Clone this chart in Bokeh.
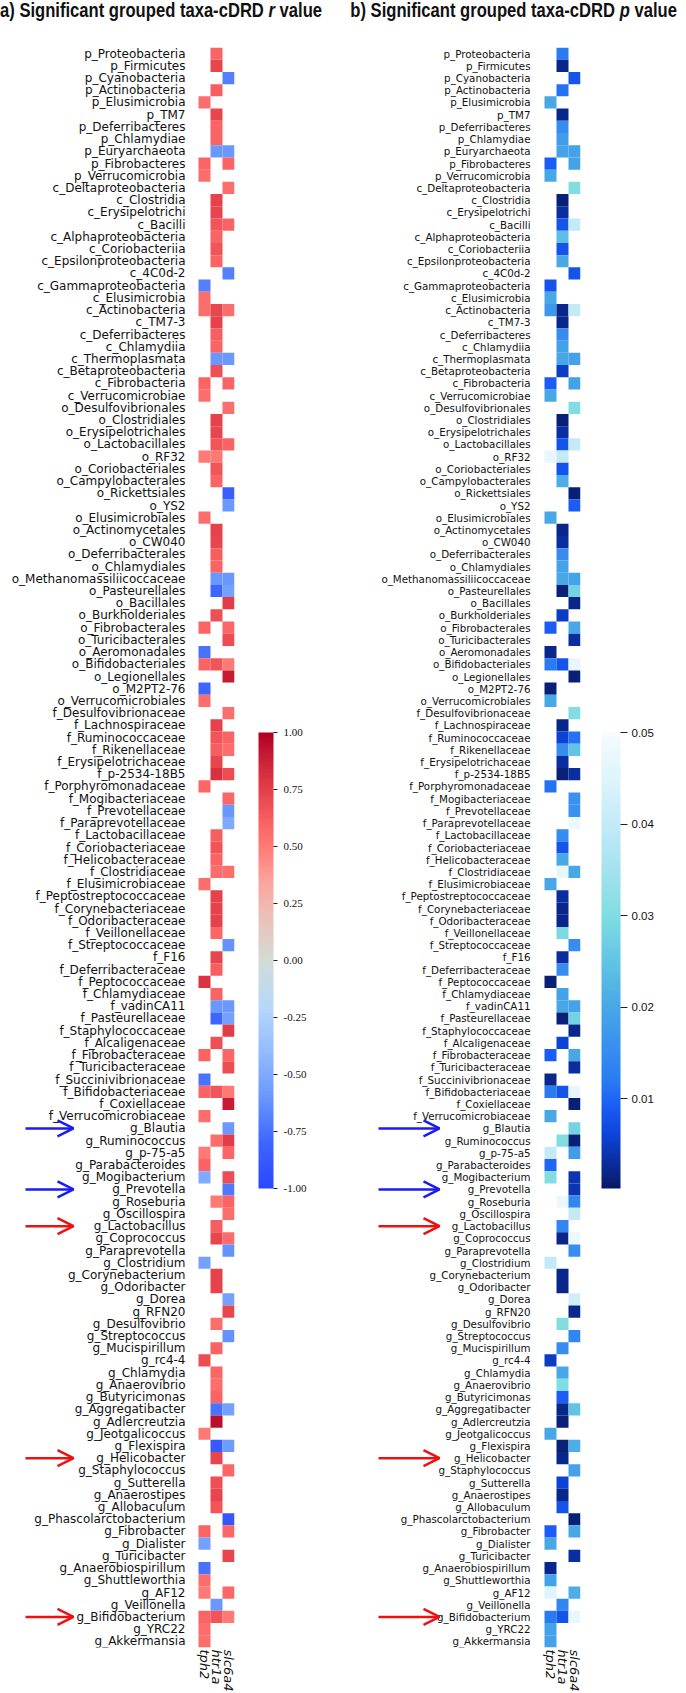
import numpy as np
from bokeh.plotting import figure
from bokeh.models import (ColumnDataSource, LinearColorMapper, ColorBar, FixedTicker,
                          PrintfTickFormatter, Arrow, OpenHead, Range1d, Div)
from bokeh.core.properties import value
from bokeh.layouts import row, column
from bokeh.embed import file_html
from bokeh.resources import INLINE

# ---------------- data ----------------
taxa = [
    "p_Proteobacteria", "p_Firmicutes", "p_Cyanobacteria", "p_Actinobacteria", "p_Elusimicrobia",
    "p_TM7", "p_Deferribacteres", "p_Chlamydiae", "p_Euryarchaeota", "p_Fibrobacteres",
    "p_Verrucomicrobia", "c_Deltaproteobacteria", "c_Clostridia", "c_Erysipelotrichi", "c_Bacilli",
    "c_Alphaproteobacteria", "c_Coriobacteriia", "c_Epsilonproteobacteria", "c_4C0d-2",
    "c_Gammaproteobacteria", "c_Elusimicrobia", "c_Actinobacteria", "c_TM7-3", "c_Deferribacteres",
    "c_Chlamydiia", "c_Thermoplasmata", "c_Betaproteobacteria", "c_Fibrobacteria",
    "c_Verrucomicrobiae", "o_Desulfovibrionales", "o_Clostridiales", "o_Erysipelotrichales",
    "o_Lactobacillales", "o_RF32", "o_Coriobacteriales", "o_Campylobacterales", "o_Rickettsiales",
    "o_YS2", "o_Elusimicrobiales", "o_Actinomycetales", "o_CW040", "o_Deferribacterales",
    "o_Chlamydiales", "o_Methanomassiliicoccaceae", "o_Pasteurellales", "o_Bacillales",
    "o_Burkholderiales", "o_Fibrobacterales", "o_Turicibacterales", "o_Aeromonadales",
    "o_Bifidobacteriales", "o_Legionellales", "o_M2PT2-76", "o_Verrucomicrobiales",
    "f_Desulfovibrionaceae", "f_Lachnospiraceae", "f_Ruminococcaceae", "f_Rikenellaceae",
    "f_Erysipelotrichaceae", "f_p-2534-18B5", "f_Porphyromonadaceae", "f_Mogibacteriaceae",
    "f_Prevotellaceae", "f_Paraprevotellaceae", "f_Lactobacillaceae", "f_Coriobacteriaceae",
    "f_Helicobacteraceae", "f_Clostridiaceae", "f_Elusimicrobiaceae", "f_Peptostreptococcaceae",
    "f_Corynebacteriaceae", "f_Odoribacteraceae", "f_Veillonellaceae", "f_Streptococcaceae",
    "f_F16", "f_Deferribacteraceae", "f_Peptococcaceae", "f_Chlamydiaceae", "f_vadinCA11",
    "f_Pasteurellaceae", "f_Staphylococcaceae", "f_Alcaligenaceae", "f_Fibrobacteraceae",
    "f_Turicibacteraceae", "f_Succinivibrionaceae", "f_Bifidobacteriaceae", "f_Coxiellaceae",
    "f_Verrucomicrobiaceae", "g_Blautia", "g_Ruminococcus", "g_p-75-a5", "g_Parabacteroides",
    "g_Mogibacterium", "g_Prevotella", "g_Roseburia", "g_Oscillospira", "g_Lactobacillus",
    "g_Coprococcus", "g_Paraprevotella", "g_Clostridium", "g_Corynebacterium", "g_Odoribacter",
    "g_Dorea", "g_RFN20", "g_Desulfovibrio", "g_Streptococcus", "g_Mucispirillum", "g_rc4-4",
    "g_Chlamydia", "g_Anaerovibrio", "g_Butyricimonas", "g_Aggregatibacter", "g_Adlercreutzia",
    "g_Jeotgalicoccus", "g_Flexispira", "g_Helicobacter", "g_Staphylococcus", "g_Sutterella",
    "g_Anaerostipes", "g_Allobaculum", "g_Phascolarctobacterium", "g_Fibrobacter", "g_Dialister",
    "g_Turicibacter", "g_Anaerobiospirillum", "g_Shuttleworthia", "g_AF12", "g_Veillonella",
    "g_Bifidobacterium", "g_YRC22", "g_Akkermansia",
]
genes = ["tph2", "htr1a", "slc6a4"]

# correlation r (significant cells only)
r_tph2 = {
    "p_Elusimicrobia": 0.55, "p_Fibrobacteres": 0.6, "p_Verrucomicrobia": 0.55,
    "c_Gammaproteobacteria": -0.7, "c_Elusimicrobia": 0.55, "c_Actinobacteria": 0.55,
    "c_Fibrobacteria": 0.6, "c_Verrucomicrobiae": 0.55, "o_RF32": 0.5, "o_Elusimicrobiales": 0.55,
    "o_Fibrobacterales": 0.6, "o_Aeromonadales": -0.75, "o_Bifidobacteriales": 0.6,
    "o_M2PT2-76": -0.8, "o_Verrucomicrobiales": 0.55, "f_Porphyromonadaceae": 0.58,
    "f_Elusimicrobiaceae": 0.55, "f_Peptococcaceae": 0.8, "f_Fibrobacteraceae": 0.6,
    "f_Succinivibrionaceae": -0.75, "f_Bifidobacteriaceae": 0.6, "f_Verrucomicrobiaceae": 0.55,
    "g_p-75-a5": 0.5, "g_Parabacteroides": 0.6, "g_Mogibacterium": -0.5, "g_Clostridium": -0.55,
    "g_rc4-4": 0.7, "g_Jeotgalicoccus": 0.5, "g_Fibrobacter": 0.6, "g_Dialister": -0.55,
    "g_Anaerobiospirillum": -0.75, "g_Shuttleworthia": 0.55, "g_AF12": 0.5,
    "g_Bifidobacterium": 0.6, "g_YRC22": 0.55, "g_Akkermansia": 0.55,
}
r_htr1a = {
    "p_Proteobacteria": 0.6, "p_Firmicutes": 0.72, "p_Actinobacteria": 0.62, "p_TM7": 0.72,
    "p_Deferribacteres": 0.6, "p_Chlamydiae": 0.6, "p_Euryarchaeota": -0.6, "c_Clostridia": 0.74,
    "c_Erysipelotrichi": 0.72, "c_Bacilli": 0.66, "c_Alphaproteobacteria": 0.6,
    "c_Coriobacteriia": 0.66, "c_Epsilonproteobacteria": 0.6, "c_Actinobacteria": 0.72,
    "c_TM7-3": 0.74, "c_Deferribacteres": 0.62, "c_Chlamydiia": 0.6, "c_Thermoplasmata": -0.6,
    "c_Betaproteobacteria": 0.68, "o_Clostridiales": 0.74, "o_Erysipelotrichales": 0.72,
    "o_Lactobacillales": 0.66, "o_RF32": 0.5, "o_Coriobacteriales": 0.66,
    "o_Campylobacterales": 0.6, "o_Actinomycetales": 0.74, "o_CW040": 0.72,
    "o_Deferribacterales": 0.62, "o_Chlamydiales": 0.6, "o_Methanomassiliicoccaceae": -0.6,
    "o_Pasteurellales": -0.8, "o_Burkholderiales": 0.68, "o_Bifidobacteriales": 0.66,
    "f_Lachnospiraceae": 0.74, "f_Ruminococcaceae": 0.66, "f_Rikenellaceae": 0.62,
    "f_Erysipelotrichaceae": 0.72, "f_p-2534-18B5": 0.82, "f_Lactobacillaceae": 0.62,
    "f_Coriobacteriaceae": 0.66, "f_Helicobacteraceae": 0.6, "f_Clostridiaceae": 0.55,
    "f_Peptostreptococcaceae": 0.74, "f_Corynebacteriaceae": 0.74, "f_Odoribacteraceae": 0.74,
    "f_Veillonellaceae": 0.58, "f_F16": 0.72, "f_Deferribacteraceae": 0.62,
    "f_Chlamydiaceae": 0.6, "f_vadinCA11": -0.6, "f_Pasteurellaceae": -0.8,
    "f_Alcaligenaceae": 0.68, "f_Bifidobacteriaceae": 0.66, "g_Ruminococcus": 0.55,
    "g_Roseburia": 0.5, "g_Lactobacillus": 0.62, "g_Coprococcus": 0.72,
    "g_Corynebacterium": 0.74, "g_Odoribacter": 0.74, "g_Desulfovibrio": 0.56,
    "g_Mucispirillum": 0.6, "g_Chlamydia": 0.58, "g_Anaerovibrio": 0.56, "g_Butyricimonas": 0.6,
    "g_Aggregatibacter": -0.75, "g_Adlercreutzia": 0.95, "g_Flexispira": -0.88,
    "g_Helicobacter": 0.72, "g_Sutterella": 0.68, "g_Anaerostipes": 0.72, "g_Allobaculum": 0.66,
    "g_Veillonella": -0.6, "g_Bifidobacterium": 0.66,
}
r_slc6a4 = {
    "p_Cyanobacteria": -0.7, "p_Euryarchaeota": -0.6, "p_Fibrobacteres": 0.6,
    "c_Deltaproteobacteria": 0.55, "c_Bacilli": 0.6, "c_4C0d-2": -0.7, "c_Actinobacteria": 0.55,
    "c_Thermoplasmata": -0.6, "c_Fibrobacteria": 0.6, "o_Desulfovibrionales": 0.55,
    "o_Lactobacillales": 0.6, "o_Rickettsiales": -0.85, "o_YS2": -0.6,
    "o_Methanomassiliicoccaceae": -0.6, "o_Pasteurellales": -0.55, "o_Bacillales": 0.76,
    "o_Fibrobacterales": 0.58, "o_Turicibacterales": 0.7, "o_Bifidobacteriales": 0.5,
    "o_Legionellales": 0.9, "f_Desulfovibrionaceae": 0.55, "f_Ruminococcaceae": 0.6,
    "f_Rikenellaceae": 0.56, "f_p-2534-18B5": 0.7, "f_Mogibacteriaceae": 0.58,
    "f_Prevotellaceae": -0.6, "f_Paraprevotellaceae": -0.5, "f_Clostridiaceae": 0.55,
    "f_Streptococcaceae": -0.62, "f_vadinCA11": -0.6, "f_Pasteurellaceae": -0.55,
    "f_Staphylococcaceae": 0.76, "f_Fibrobacteraceae": 0.58, "f_Turicibacteraceae": 0.7,
    "f_Bifidobacteriaceae": 0.5, "f_Coxiellaceae": 0.9, "g_Blautia": -0.6,
    "g_Ruminococcus": 0.76, "g_p-75-a5": 0.58, "g_Mogibacterium": 0.7, "g_Prevotella": -0.72,
    "g_Roseburia": 0.6, "g_Oscillospira": 0.55, "g_Coprococcus": 0.55,
    "g_Paraprevotella": -0.62, "g_Dorea": -0.55, "g_RFN20": 0.72, "g_Streptococcus": -0.62,
    "g_Aggregatibacter": -0.55, "g_Flexispira": -0.58, "g_Staphylococcus": 0.58,
    "g_Phascolarctobacterium": -0.9, "g_Fibrobacter": 0.58, "g_Turicibacter": 0.72,
    "g_AF12": 0.58, "g_Bifidobacterium": 0.5,
}

# p values (significant cells only)
p_tph2 = {
    "p_Elusimicrobia": 0.02, "p_Fibrobacteres": 0.009, "p_Verrucomicrobia": 0.02,
    "c_Gammaproteobacteria": 0.008, "c_Elusimicrobia": 0.02, "c_Actinobacteria": 0.017,
    "c_Fibrobacteria": 0.009, "c_Verrucomicrobiae": 0.02, "o_RF32": 0.047,
    "o_Elusimicrobiales": 0.02, "o_Fibrobacterales": 0.009, "o_Aeromonadales": 0.002,
    "o_Bifidobacteriales": 0.012, "o_M2PT2-76": 0.001, "o_Verrucomicrobiales": 0.02,
    "f_Porphyromonadaceae": 0.011, "f_Elusimicrobiaceae": 0.02, "f_Peptococcaceae": 0.001,
    "f_Fibrobacteraceae": 0.009, "f_Succinivibrionaceae": 0.002, "f_Bifidobacteriaceae": 0.012,
    "f_Verrucomicrobiaceae": 0.02, "g_p-75-a5": 0.04, "g_Parabacteroides": 0.01,
    "g_Mogibacterium": 0.03, "g_Clostridium": 0.04, "g_rc4-4": 0.005, "g_Jeotgalicoccus": 0.02,
    "g_Fibrobacter": 0.009, "g_Dialister": 0.02, "g_Anaerobiospirillum": 0.002,
    "g_Shuttleworthia": 0.019, "g_AF12": 0.045, "g_Bifidobacterium": 0.012, "g_YRC22": 0.019,
    "g_Akkermansia": 0.019,
}
p_htr1a = {
    "p_Proteobacteria": 0.012, "p_Firmicutes": 0.002, "p_Actinobacteria": 0.011, "p_TM7": 0.002,
    "p_Deferribacteres": 0.015, "p_Chlamydiae": 0.018, "p_Euryarchaeota": 0.019,
    "c_Clostridia": 0.001, "c_Erysipelotrichi": 0.003, "c_Bacilli": 0.008,
    "c_Alphaproteobacteria": 0.024, "c_Coriobacteriia": 0.008, "c_Epsilonproteobacteria": 0.02,
    "c_Actinobacteria": 0.002, "c_TM7-3": 0.002, "c_Deferribacteres": 0.015,
    "c_Chlamydiia": 0.019, "c_Thermoplasmata": 0.02, "c_Betaproteobacteria": 0.005,
    "o_Clostridiales": 0.001, "o_Erysipelotrichales": 0.003, "o_Lactobacillales": 0.008,
    "o_RF32": 0.04, "o_Coriobacteriales": 0.008, "o_Campylobacterales": 0.021,
    "o_Actinomycetales": 0.002, "o_CW040": 0.003, "o_Deferribacterales": 0.015,
    "o_Chlamydiales": 0.019, "o_Methanomassiliicoccaceae": 0.02, "o_Pasteurellales": 0.001,
    "o_Burkholderiales": 0.005, "o_Bifidobacteriales": 0.008, "f_Lachnospiraceae": 0.002,
    "f_Ruminococcaceae": 0.006, "f_Rikenellaceae": 0.015, "f_Erysipelotrichaceae": 0.003,
    "f_p-2534-18B5": 0.001, "f_Lactobacillaceae": 0.015, "f_Coriobacteriaceae": 0.008,
    "f_Helicobacteraceae": 0.02, "f_Clostridiaceae": 0.047, "f_Peptostreptococcaceae": 0.003,
    "f_Corynebacteriaceae": 0.002, "f_Odoribacteraceae": 0.002, "f_Veillonellaceae": 0.029,
    "f_F16": 0.003, "f_Deferribacteraceae": 0.015, "f_Chlamydiaceae": 0.019,
    "f_vadinCA11": 0.02, "f_Pasteurellaceae": 0.001, "f_Alcaligenaceae": 0.006,
    "f_Bifidobacteriaceae": 0.008, "g_Ruminococcus": 0.03, "g_Roseburia": 0.048,
    "g_Lactobacillus": 0.014, "g_Coprococcus": 0.002, "g_Corynebacterium": 0.002,
    "g_Odoribacter": 0.002, "g_Desulfovibrio": 0.03, "g_Mucispirillum": 0.015,
    "g_Chlamydia": 0.02, "g_Anaerovibrio": 0.03, "g_Butyricimonas": 0.009,
    "g_Aggregatibacter": 0.002, "g_Adlercreutzia": 0.001, "g_Flexispira": 0.001,
    "g_Helicobacter": 0.002, "g_Sutterella": 0.006, "g_Anaerostipes": 0.002,
    "g_Allobaculum": 0.008, "g_Veillonella": 0.014, "g_Bifidobacterium": 0.008,
}
p_slc6a4 = {
    "p_Cyanobacteria": 0.008, "p_Euryarchaeota": 0.019, "p_Fibrobacteres": 0.019,
    "c_Deltaproteobacteria": 0.03, "c_Bacilli": 0.04, "c_4C0d-2": 0.008,
    "c_Actinobacteria": 0.04, "c_Thermoplasmata": 0.019, "c_Fibrobacteria": 0.019,
    "o_Desulfovibrionales": 0.03, "o_Lactobacillales": 0.04, "o_Rickettsiales": 0.001,
    "o_YS2": 0.009, "o_Methanomassiliicoccaceae": 0.019, "o_Pasteurellales": 0.028,
    "o_Bacillales": 0.002, "o_Fibrobacterales": 0.02, "o_Turicibacterales": 0.003,
    "o_Bifidobacteriales": 0.047, "o_Legionellales": 0.001, "f_Desulfovibrionaceae": 0.03,
    "f_Ruminococcaceae": 0.011, "f_Rikenellaceae": 0.025, "f_p-2534-18B5": 0.003,
    "f_Mogibacteriaceae": 0.016, "f_Prevotellaceae": 0.016, "f_Paraprevotellaceae": 0.048,
    "f_Clostridiaceae": 0.02, "f_Streptococcaceae": 0.015, "f_vadinCA11": 0.019,
    "f_Pasteurellaceae": 0.028, "f_Staphylococcaceae": 0.002, "f_Fibrobacteraceae": 0.02,
    "f_Turicibacteraceae": 0.003, "f_Bifidobacteriaceae": 0.047, "f_Coxiellaceae": 0.001,
    "g_Blautia": 0.028, "g_Ruminococcus": 0.001, "g_p-75-a5": 0.018, "g_Mogibacterium": 0.004,
    "g_Prevotella": 0.004, "g_Roseburia": 0.014, "g_Oscillospira": 0.04, "g_Coprococcus": 0.048,
    "g_Paraprevotella": 0.015, "g_Dorea": 0.042, "g_RFN20": 0.002, "g_Streptococcus": 0.014,
    "g_Aggregatibacter": 0.025, "g_Flexispira": 0.021, "g_Staphylococcus": 0.019,
    "g_Phascolarctobacterium": 0.001, "g_Fibrobacter": 0.02, "g_Turicibacter": 0.003,
    "g_AF12": 0.021, "g_Bifidobacterium": 0.047,
}

arrow_blue = ["g_Blautia", "g_Prevotella"]
arrow_red = ["g_Lactobacillus", "g_Helicobacter", "g_Bifidobacterium"]

r_ticks = [-1.0, -0.75, -0.5, -0.25, 0.0, 0.25, 0.5, 0.75, 1.0]
p_ticks = [0.01, 0.02, 0.03, 0.04, 0.05]

# ---------------- styling ----------------
R_STOPS = [(-1.0, "#2a48ff"), (-0.8, "#3e66ff"), (-0.6, "#6a98ff"), (-0.4, "#94bcff"),
           (-0.2, "#b8d8fa"), (0.0, "#d2dcd6"), (0.2, "#ecc0b6"), (0.35, "#fca49c"),
           (0.5, "#ff7a76"), (0.6, "#fa6464"), (0.7, "#ec4c52"), (0.8, "#dc3444"),
           (0.9, "#c81c34"), (1.0, "#b00024")]
P_STOPS = [(0.0002, "#071a66"), (0.003, "#0a2ea0"), (0.006, "#0c44d8"), (0.009, "#1a5cf5"),
           (0.012, "#2a7cf2"), (0.016, "#3a92ee"), (0.020, "#48a8e6"), (0.025, "#62c4e4"),
           (0.030, "#80dde2"), (0.035, "#a4e2ee"), (0.040, "#c4eaf8"), (0.045, "#def4fc"),
           (0.050, "#f4fcff")]


def make_palette(stops, n=256):
    xs = np.array([s for s, _ in stops])
    cols = np.array([[int(h[i:i + 2], 16) for i in (1, 3, 5)] for _, h in stops], float)
    out = []
    for v in np.linspace(xs[0], xs[-1], n):
        rgb = [int(round(np.interp(v, xs, cols[:, k]))) for k in range(3)]
        out.append("#%02x%02x%02x" % tuple(rgb))
    return out


N = len(taxa)
CELL = 12            # px per gene column
FIG_W = 343
TITLE_H = 24
FIG_H = 1693 - TITLE_H - 1
TOP = 23
FRAME_H = 1600
BOTTOM = FIG_H - TOP - FRAME_H


def cells(cols):
    xs, ys, vs = [], [], []
    for j, d in enumerate(cols):
        for i, t in enumerate(taxa):
            if t in d:
                xs.append(j + 0.5)
                ys.append(N - i - 0.5)
                vs.append(d[t])
    return ColumnDataSource(dict(x=xs, y=ys, v=vs))


def panel(cols, mapper, cells_left, label_gap, label_size, arrow_px, cb_cfg):
    frame_w = cells_left + 3 * CELL
    p = figure(x_range=Range1d(-cells_left / CELL, 3), y_range=Range1d(0, N),
               frame_width=frame_w, frame_height=FRAME_H,
               min_border_left=0, min_border_right=FIG_W - frame_w,
               min_border_top=TOP, min_border_bottom=BOTTOM,
               y_axis_location=None,
               output_backend="svg", toolbar_location=None, outline_line_color=None)
    p.rect(x="x", y="y", width=1.0, height=1.0, source=cells(cols),
           fill_color={"field": "v", "transform": mapper}, line_color=None)
    p.grid.visible = False

    # row labels
    lab = ColumnDataSource(dict(y=[N - i - 0.5 for i in range(N)], t=taxa))
    p.text(x=-label_gap / CELL, y="y", text="t", source=lab, text_align="right",
           text_baseline="middle", text_font=value("DejaVu Sans"),
           text_font_size=value(label_size), text_color="#111111")

    # gene axis
    ax = p.xaxis[0]
    ax.ticker = FixedTicker(ticks=[j + 0.5 for j in range(len(genes))])
    ax.major_label_overrides = {j + 0.5: g for j, g in enumerate(genes)}
    ax.axis_line_color = None
    ax.major_tick_line_color = None
    ax.minor_tick_line_color = None
    ax.major_tick_out = 0
    ax.major_tick_in = 0
    ax.major_label_text_font = "DejaVu Sans"
    ax.major_label_text_font_size = "13px"
    ax.major_label_text_font_style = "italic"
    ax.major_label_text_color = "#111111"
    ax.major_label_orientation = "vertical"
    ax.major_label_standoff = 2

    cb = ColorBar(color_mapper=mapper, ticker=FixedTicker(ticks=cb_cfg["ticks"]),
                  formatter=PrintfTickFormatter(format="%.2f"),
                  width=cb_cfg["w"], height=456, location=(cb_cfg["dx"], 459),
                  padding=0, margin=0, bar_line_color=None,
                  major_tick_line_color="#222222", major_tick_in=0,
                  major_tick_out=cb_cfg["tick"], minor_tick_line_color=None,
                  label_standoff=cb_cfg["standoff"],
                  major_label_text_font=cb_cfg["font"],
                  major_label_text_font_size=cb_cfg["size"],
                  major_label_text_color="#111111",
                  background_fill_color=None, border_line_color=None)
    p.add_layout(cb, "right")

    # arrows pointing at highlighted genera
    x0, x1 = arrow_px
    for names, color in ((arrow_blue, "#1c1cf0"), (arrow_red, "#f01010")):
        ys = [N - taxa.index(nm) - 0.5 for nm in names]
        src = ColumnDataSource(dict(xs=[(x0 - cells_left) / CELL] * len(ys),
                                    xe=[(x1 - cells_left) / CELL] * len(ys), y=ys))
        p.add_layout(Arrow(end=OpenHead(size=16, line_color=color, line_width=2.5),
                           x_start="xs", y_start="y", x_end="xe", y_end="y", source=src,
                           line_color=color, line_width=2.5))
    return p


r_mapper = LinearColorMapper(palette=make_palette(R_STOPS), low=-1.0, high=1.0)
p_mapper = LinearColorMapper(palette=make_palette(P_STOPS), low=0.0002, high=0.05)

p1 = panel([r_tph2, r_htr1a, r_slc6a4], r_mapper, cells_left=198, label_gap=13,
           label_size="12px", arrow_px=(25, 73),
           cb_cfg=dict(ticks=r_ticks, w=15, dx=24, tick=4, standoff=6,
                       font="Liberation Sans Narrow", size="11px"))
p2 = panel([p_tph2, p_htr1a, p_slc6a4], p_mapper, cells_left=201, label_gap=14,
           label_size="10.3px", arrow_px=(35, 96),
           cb_cfg=dict(ticks=p_ticks, w=19, dx=21, tick=7, standoff=4,
                       font="Liberation Sans", size="11.5px"))


def title_div(html, pad):
    return Div(text=html, width=FIG_W, height=TITLE_H, margin=0,
               styles={"font-family": "'Liberation Sans', Arial, sans-serif",
                       "font-weight": "bold", "font-size": "20.5px",
                       "line-height": "20px", "white-space": "nowrap", "color": "#111111",
                       "padding-left": "%dpx" % pad, "transform": "scaleX(0.81)",
                       "transform-origin": "0 0"})


t1 = title_div("a) Significant grouped taxa-cDRD <i>r</i> value", 0)
t2 = title_div("b) Significant grouped taxa-cDRD <i>p</i> value", 9)

layout = column(row(t1, t2), row(p1, p2))
open("out.html", "w").write(file_html(layout, INLINE))
